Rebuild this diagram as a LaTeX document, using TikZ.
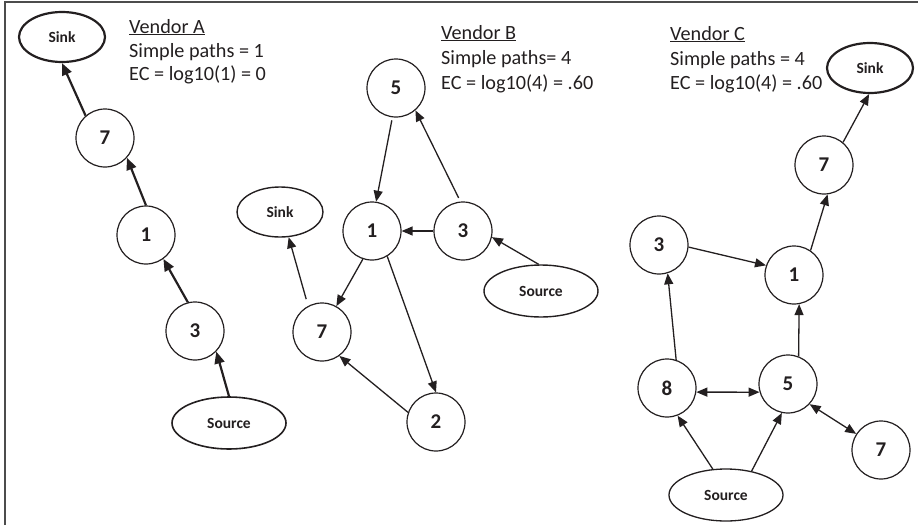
\documentclass[tikz,border=0pt]{standalone}
\usepackage{fontspec}
\setmainfont{Carlito}
\usetikzlibrary{arrows.meta,shapes.geometric}
\definecolor{ink}{HTML}{231F20}
\begin{document}
\begin{tikzpicture}[x=1pt,y=-1pt,color=ink,
 circ/.style={circle,draw,line width=1.2pt,minimum size=58pt,inner sep=0pt,font=\fontsize{21}{24}\selectfont\bfseries},
 ell/.style={ellipse,draw,line width=1.4pt,inner sep=0pt,font=\fontsize{15.5}{18}\selectfont\bfseries},
 sink/.style={ell,minimum width=86pt,minimum height=50pt},
 thick sink/.style={sink,line width=2.2pt},
 src/.style={ell,minimum width=114pt,minimum height=52pt},
 tip/.style={-{Triangle[length=11pt,width=9pt]}},
 arr/.style={line width=1.3pt,tip},
 tarr/.style={line width=2.2pt,-{Triangle[length=12pt,width=10pt]}},
 darr/.style={line width=1.3pt,{Triangle[length=11pt,width=9pt]}-{Triangle[length=11pt,width=9pt]}},
 lbl/.style={anchor=base west,inner sep=0pt,font=\fontsize{20.2}{24}\selectfont}]
\useasboundingbox (0,0) rectangle (918,525);
\coordinate (fbl) at (5,525);
\coordinate (ftl) at (5,2);
\coordinate (ftr) at (918,2);
\draw[line width=1.6pt,color=black!70] (fbl) -- (ftl) -- (ftr);

% ---------------- Vendor A
\node[lbl] (vA1) at (129,33) {\underline{Vendor A}};
\node[lbl] (vA2) at (129,57) {Simple paths = 1};
\node[lbl] (vA3) at (129,80) {EC = log10(1) = 0};
\node[thick sink] (sinkA) at (62,37) {Sink};
\node[circ] (a7) at (105,138) {7};
\node[circ] (a1) at (146,235) {1};
\node[circ] (a3) at (195,331) {3};
\node[src,line width=1.6pt] (srcA) at (229,423) {Source};
\draw[tarr] (srcA.90) -- (a3.-44);
\draw[tarr] (a3.104) -- (a1.-54);
\draw[tarr] (a1.90) -- (a7.-42);
\draw[tarr] (a7.131) -- (sinkA.-90);

% ---------------- Vendor B
\node[lbl] (vB1) at (441,39) {\underline{Vendor B}};
\node[lbl] (vB2) at (441,64) {Simple paths= 4};
\node[lbl] (vB3) at (441,89) {EC = log10(4) = .60};
\node[circ] (b5) at (396,88) {5};
\node[sink] (sinkB) at (280,212) {Sink};
\node[circ] (b1) at (372,231) {1};
\node[circ] (b3) at (463,231) {3};
\node[src] (srcB) at (541,291) {Source};
\node[circ] (b7) at (322,332) {7};
\node[circ] (b2) at (436,422) {2};
\draw[arr,shorten <=3pt] (b5.-97) -- (b1.82);
\draw[arr,shorten <=4pt] (b3.95) -- (b5.-49);
\draw[arr] (b3.180) -- (b1.0);
\draw[arr] (srcB.95) -- (b3.-12);
\draw[arr] (b1.-108) -- (b7.61);
\draw[arr] (b1.-59) -- (b2.90);
\draw[arr] (b2.161) -- (b7.-54);
\draw[arr,shorten <=7pt] (b7.118) -- (sinkB.-71);

% ---------------- Vendor C
\node[lbl] (vC1) at (670,40) {\underline{Vendor C}};
\node[lbl] (vC2) at (670,65) {Simple paths = 4};
\node[lbl] (vC3) at (670,89) {EC = log10(4) = .60};
\node[thick sink] (sinkC) at (870,68) {Sink};
\node[circ] (c7) at (824,165) {7};
\node[circ] (c3) at (659,245) {3};
\node[circ] (c1) at (794,275) {1};
\node[circ] (c8) at (667,388) {8};
\node[circ] (c5) at (788,384) {5};
\node[circ] (c7b) at (881,450) {7};
\node[src,line width=1.3pt] (srcC) at (726,495) {Source};
\draw[arr] (c7.50) -- (sinkC.-92);
\draw[arr] (c1.56) -- (c7.-83);
\draw[arr] (c3.-4) -- (c1.161);
\draw[arr] (c8.72) -- (c3.-73);
\draw[arr] (c5.69) -- (c1.-80);
\draw[darr] (c8.-8) -- (c5.196);
\draw[darr] (c5.-43) -- (c7b.147);
\draw[arr] (srcC.117) -- (c8.-69);
\draw[arr] (srcC.43) -- (c5.-102);
\end{tikzpicture}
\end{document}
